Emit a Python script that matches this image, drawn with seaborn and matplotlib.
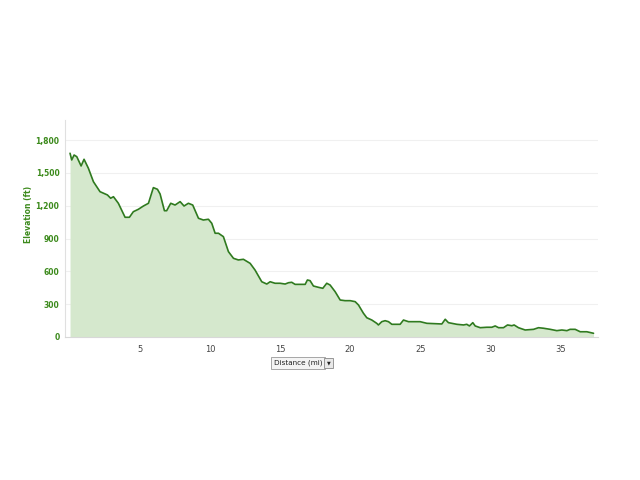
import matplotlib
matplotlib.use("Agg")
import matplotlib.pyplot as plt
import seaborn as sns
import pandas as pd

distance_mi = [0.0, 0.12, 0.29, 0.48, 0.79, 1.0, 1.31, 1.67, 2.14, 2.67, 2.9, 3.1, 3.45, 3.93,
               4.24, 4.52, 4.88, 5.24, 5.6, 5.95, 6.24, 6.43, 6.74, 6.9, 7.19, 7.5, 7.86, 8.14,
               8.45, 8.76, 9.17, 9.52, 9.88, 10.12, 10.36, 10.6, 10.95, 11.31, 11.67, 12.02,
               12.38, 12.86, 13.21, 13.69, 14.05, 14.29, 14.64, 15.0, 15.36, 15.6, 15.83, 16.07,
               16.79, 16.95, 17.14, 17.38, 17.74, 18.05, 18.33, 18.57, 18.93, 19.29, 19.64, 20.0,
               20.36, 20.6, 20.95, 21.19, 21.55, 21.9, 22.02, 22.26, 22.5, 22.74, 22.98, 23.57,
               23.81, 24.17, 24.52, 25.0, 25.48, 26.55, 26.79, 27.02, 27.62, 28.1, 28.33, 28.52,
               28.76, 28.93, 29.29, 29.76, 30.12, 30.36, 30.6, 30.95, 31.24, 31.55, 31.71, 32.02,
               32.5, 33.1, 33.45, 33.81, 34.29, 34.76, 35.12, 35.48, 35.71, 36.07, 36.43, 36.9,
               37.38]
elevation_ft = [1679, 1618, 1663, 1648, 1563, 1624, 1542, 1419, 1328, 1298, 1268, 1282, 1222, 1094,
                1094, 1145, 1167, 1197, 1222, 1365, 1350, 1307, 1154, 1154, 1222, 1206, 1237, 1197,
                1222, 1206, 1085, 1069, 1076, 1039, 948, 948, 917, 780, 719, 704,
                710, 673, 612, 505, 484, 505, 491, 491, 484, 496, 500, 481,
                481, 521, 515, 466, 454, 445, 491, 475, 414, 338, 332, 332,
                323, 292, 217, 176, 155, 125, 110, 140, 149, 140, 116, 116,
                155, 140, 140, 140, 125, 119, 162, 131, 116, 110, 116, 101,
                131, 101, 85, 89, 89, 101, 85, 85, 110, 103, 110, 85,
                64, 70, 85, 80, 70, 58, 64, 58, 70, 70, 48, 48,
                34]
x_ticks = [5, 10, 15, 20, 25, 30, 35]
y_ticks = [0, 300, 600, 900, 1200, 1500, 1800]
y_tick_labels = ["0", "300", "600", "900", "1,200", "1,500", "1,800"]

df = pd.DataFrame({"Distance (mi)": distance_mi, "Elevation (ft)": elevation_ft})

sns.set_style("white")
plt.rcParams['font.family'] = ['DejaVu Sans']

fig = plt.figure(figsize=(6.4, 4.8), dpi=100)
ax = fig.add_axes([65 / 640, (480 - 337) / 480, 533 / 640, 217 / 480])

line_color = "#2f7a1f"
fill_color = "#d5e8cd"
green_text = "#3c8a1c"

ax.fill_between(df["Distance (mi)"], df["Elevation (ft)"], 0, color=fill_color, linewidth=0)
sns.lineplot(data=df, x="Distance (mi)", y="Elevation (ft)", ax=ax, color=line_color, linewidth=1.2)

ax.set_xlim(-0.36, 37.7)
ax.set_ylim(0, 1983)
ax.set_xticks(x_ticks)
ax.set_xticklabels([str(t) for t in x_ticks])
ax.set_yticks(y_ticks)
ax.set_yticklabels(y_tick_labels)

for t in y_ticks[1:]:
    ax.axhline(t, color="#f0f0f0", linewidth=0.8, zorder=0)

for side in ["top", "right"]:
    ax.spines[side].set_visible(False)
ax.spines["left"].set_color("#e0e0e0")
ax.spines["left"].set_linewidth(0.8)
ax.spines["bottom"].set_color("#d8d8d8")
ax.spines["bottom"].set_linewidth(0.8)

ax.tick_params(axis="y", labelsize=5.5, labelcolor=green_text, colors="#d0d0d0", length=2, pad=2)
ax.tick_params(axis="x", labelsize=6, labelcolor="#444444", colors="#d0d0d0", length=0, pad=6)
for lab in ax.get_yticklabels():
    lab.set_fontweight("bold")
    lab.set_color(green_text)

ax.set_xlabel("")
ax.set_ylabel("")
fig.text(29 / 640, 1 - 214 / 480, "Elevation (ft)", rotation=90, ha="center", va="center",
         fontsize=5.5, color=green_text, fontweight="bold")

fig.text(298 / 640, 1 - 363 / 480, "Distance (mi)", ha="center", va="center", fontsize=5.2,
         color="#222222",
         bbox=dict(boxstyle="square,pad=0.35", facecolor="#f4f4f4", edgecolor="#999999", linewidth=0.6))
fig.text(328.5 / 640, 1 - 363 / 480, "\u25BC", ha="center", va="center", fontsize=3.5,
         color="#222222",
         bbox=dict(boxstyle="square,pad=0.6", facecolor="#e8e8e8", edgecolor="#888888", linewidth=0.6))

fig.savefig("out.png", dpi=100)
